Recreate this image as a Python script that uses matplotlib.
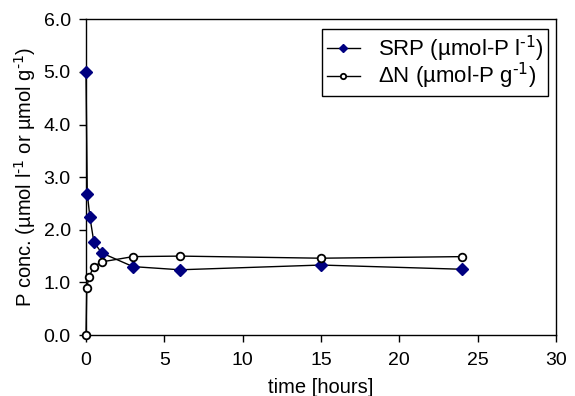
import matplotlib
matplotlib.use('Agg')
import matplotlib.pyplot as plt

# time in hours
srp_time = [0, 0.08, 0.25, 0.5, 1, 3, 6, 15, 24]
srp_conc = [5.0, 2.69, 2.24, 1.77, 1.56, 1.30, 1.24, 1.33, 1.25]

dn_time = [0, 0.05, 0.2, 0.5, 1, 3, 6, 15, 24]
dn_conc = [0.0, 0.90, 1.11, 1.30, 1.39, 1.49, 1.50, 1.46, 1.49]

x_ticks = [0, 5, 10, 15, 20, 25, 30]
y_ticks = [0, 1, 2, 3, 4, 5, 6]

plt.rcParams['font.family'] = ['Liberation Sans', 'DejaVu Sans']
plt.rcParams['mathtext.default'] = 'regular'

sup = r'$^{\text{-1}}$'

fig = plt.figure(figsize=(5.75, 3.96), dpi=100)
ax = fig.add_axes([86 / 575, 1 - 335 / 396, 470 / 575, (335 - 19.4) / 396])

ax.plot(srp_time, srp_conc, color='black', lw=1, marker='D', markersize=6,
        markerfacecolor='#000080', markeredgecolor='#000080',
        label='SRP (µmol-P l' + sup + ')', clip_on=False, zorder=3)
ax.plot(dn_time, dn_conc, color='black', lw=1, marker='o', markersize=5.5,
        markerfacecolor='white', markeredgecolor='black', markeredgewidth=1.3,
        label='ΔN (µmol-P g' + sup + ')', clip_on=False, zorder=3)

ax.set_xlim(0, 30)
ax.set_ylim(0, 6)
ax.set_xticks(x_ticks)
ax.set_yticks(y_ticks)
ax.set_yticklabels(['%.1f' % v for v in y_ticks])
ax.tick_params(direction='out', length=5, width=1, labelsize=14)
ax.tick_params(axis='x', pad=7)
ax.tick_params(axis='y', pad=6)

for s in ax.spines.values():
    s.set_linewidth(1)

ax.set_xlabel('time [hours]', fontsize=14.5, labelpad=7)
ax.set_ylabel('P conc. (µmol l' + sup + ' or µmol g' + sup + ')', fontsize=14.5, labelpad=4)

leg = ax.legend(loc='upper right', bbox_to_anchor=(0.983, 0.97), fancybox=False,
                edgecolor='black', framealpha=1, fontsize=16, handlelength=1.5,
                borderpad=0.2, labelspacing=-0.1, handletextpad=0.8,
                markerscale=0.7, borderaxespad=0)
leg.get_frame().set_linewidth(1)

plt.savefig('out.png', dpi=100)
